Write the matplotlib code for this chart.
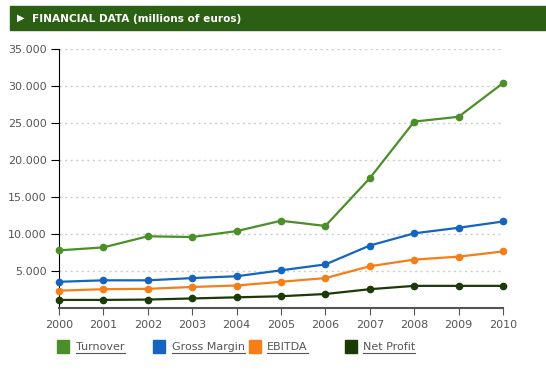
import matplotlib.pyplot as plt
from matplotlib.patches import Rectangle
from matplotlib.lines import Line2D

# data (millions of euros)
years = [2000, 2001, 2002, 2003, 2004, 2005, 2006, 2007, 2008, 2009, 2010]
turnover = [7750, 8150, 9650, 9550, 10350, 11750, 11050, 17500, 25150, 25800, 30350]
gross_margin = [3500, 3700, 3700, 4000, 4250, 5050, 5850, 8400, 10050, 10800, 11650]
ebitda = [2300, 2500, 2550, 2800, 3000, 3500, 4000, 5600, 6500, 6900, 7600]
net_profit = [1050, 1050, 1100, 1250, 1400, 1550, 1850, 2500, 2950, 2950, 2950]

names = ['Turnover', 'Gross Margin', 'EBITDA', 'Net Profit']
series = [turnover, gross_margin, ebitda, net_profit]
colors = ['#4b8f29', '#1565c0', '#f57f17', '#1a3a08']
yticks = [5000, 10000, 15000, 20000, 25000, 30000, 35000]
ytick_labels = ['5.000', '10.000', '15.000', '20.000', '25.000', '30.000', '35.000']

W, H = 546, 370
fig = plt.figure(figsize=(W / 100, H / 100), dpi=100)

# header bar
fig.patches.append(Rectangle((10 / W, 1 - 30 / H), 1 - 10 / W, 24.5 / H,
                             transform=fig.transFigure, color='#2b5f14'))
fig.text(17 / W, 1 - 18 / H, '\u25b6', color='white', fontsize=7, va='center')
fig.text(32 / W, 1 - 18.5 / H, 'FINANCIAL DATA (millions of euros)', color='white',
         fontsize=7.6, fontweight='bold', va='center')

ax = fig.add_axes([59 / W, 1 - 307.7 / H, 444 / W, 259 / H])
for vals, c in zip(series, colors):
    ax.plot(years, vals, color=c, lw=1.6, marker='o', ms=4.5, clip_on=False, zorder=3)

ax.set_xlim(2000, 2010)
ax.set_ylim(0, 35000)
ax.set_xticks(years)
ax.set_yticks(yticks)
ax.set_yticklabels(ytick_labels)
ax.grid(axis='y', color='#cccccc', ls=(0, (1.5, 2.5)), lw=1)
ax.set_axisbelow(True)
for s in ['top', 'right']:
    ax.spines[s].set_visible(False)
ax.spines['left'].set_color('black')
ax.spines['bottom'].set_color('#555555')
ax.spines['bottom'].set_linewidth(1.5)
ax.tick_params(axis='y', length=6, color='black', labelsize=8, labelcolor='#555555', pad=3)
ax.tick_params(axis='x', length=5, color='#555555', labelsize=8, labelcolor='#555555', pad=4)

# legend
sq_x = [57, 153, 249, 345]
txt_x = [76, 172, 267, 363]
fig.canvas.draw()
r = fig.canvas.get_renderer()
for name, c, sx, tx in zip(names, colors, sq_x, txt_x):
    fig.patches.append(Rectangle((sx / W, 1 - 352.5 / H), 12 / W, 12.5 / H,
                                 transform=fig.transFigure, color=c))
    t = fig.text(tx / W, 1 - 346.5 / H, name, color='#555555', fontsize=8, va='center')
    bb = t.get_window_extent(r)
    fig.lines.append(Line2D([tx / W, (tx + bb.width) / W], [1 - 353 / H] * 2,
                            transform=fig.transFigure, color='#555555', lw=0.8))

fig.savefig('out.png', dpi=100)
